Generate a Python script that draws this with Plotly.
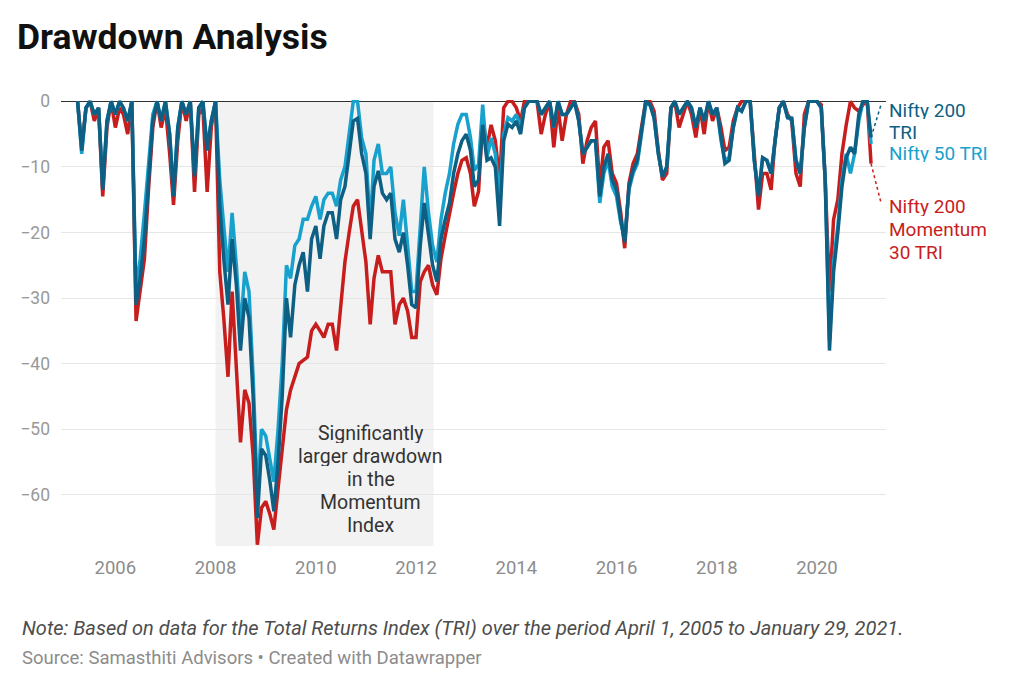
import pandas as pd
import plotly.graph_objs as go

# monthly points (first of month) from Apr 2005, plus the last day of the data
dates = list(pd.date_range('2005-04-01', '2021-01-01', freq='MS').strftime('%Y-%m-%d')) + ['2021-01-29']

# drawdown in %
nifty200 = [
    0, -7.5, -1, 0, -2, -1, -13.5, -3, 0,                           # 2005
    -2, 0, -1, -3, 0, -31, -27, -21, -11, -3, 0, -3,                # 2006
    0, -5, -14.5, -4, 0, -2, 0, -11.5, -1, 0, -7.5, -3,             # 2007
    0, -16, -24, -31, -21, -28, -38, -30, -33, -45, -63.5, -53,     # 2008
    -54, -58, -62.5, -55, -45, -30, -36, -28, -25, -23, -29, -21,   # 2009
    -19, -24, -19, -17, -17, -21, -15, -13, -8, -3, -2.6, -8,       # 2010
    -11, -21, -13, -10.6, -14, -15, -14, -21, -23, -20, -25, -31,   # 2011
    -31.5, -22, -15.5, -20, -25, -27.5, -21, -18, -15.5, -11, -8, -6,  # 2012
    -5, -7.5, -13, -12, -3.6, -9, -8.6, -10, -19, -6, -3.5, -4,     # 2013
    -3, -5, -1, 0, 0, 0, -2, -1, 0, -4, 0, -2,                      # 2014
    -2, -1, 0, -3, -8, -7, -6, -6, -14.5, -10, -8, -12,             # 2015
    -13.5, -18, -21.5, -13, -10.5, -9, -4.5, 0, -0.5, -2.5, -8, -11.5,  # 2016
    -10, -1, 0, -2, -1, 0, -1, -4, -1, -3, 0, -2,                   # 2017
    -1, -6, -9.5, -9, -4, -1, -1.5, 0, 0, -9, -14.5, -8.6,          # 2018
    -9, -11, -6, -1, 0, -2.5, -2.6, -9, -11, -4, 0, 0,              # 2019
    0, -1, -12, -38, -26, -20, -13, -8.6, -7, -8, -2, 0,            # 2020
    0, -5.5,                                                        # 2021
]

nifty50 = [
    0, -8, -1, 0, -2, -1, -13, -3, 0,
    -2, 0, -1, -3, 0, -29, -24, -17, -9, -2, 0, -3,
    0, -5, -14, -4, 0, -2, 0, -11, -1, 0, -7, -3,
    0, -12, -19, -26, -17, -25, -35, -26, -29, -42, -60, -50,
    -51, -55, -58, -50, -40, -25, -27, -22, -21, -18, -18, -16,
    -14.5, -18, -15, -14, -14, -16, -12, -10, -4.5, 0, 0, -5.6,
    -8, -19, -9, -6.5, -11, -11, -10, -17, -20.5, -15, -22, -29,
    -29, -19.5, -10, -17, -22, -24.5, -18, -14, -11, -6.5, -3.5, -2,
    -2, -5.5, -10.5, -9.6, -0.5, -8.6, -5.6, -8, -15, -5, -2.5, -3,
    -2, -4, -1, 0, 0, 0, -2, -1, 0, -4, 0, -2,
    -2, -1, 0, -3, -8, -7, -6, -6, -15.5, -11, -9, -13,
    -14.5, -18.5, -21, -13.5, -11, -9.5, -5, -0.5, -0.5, -2.5, -8, -11.5,
    -10, -1, 0, -2, -1, 0, -1, -4, -1, -3, 0, -2,
    -1, -6, -9, -8.5, -4, -1, -1.5, 0, 0, -9, -14, -8.6,
    -9, -11, -6, -1, 0, -2.5, -2.6, -9, -11, -4, 0, 0,
    0, -1, -12, -36.5, -24.5, -19, -12, -8, -11, -8, -3, 0,
    0, -6.5,
]

momentum30 = [
    0, -7, -1, 0, -3, -1, -14.5, -4, 0,
    -4, -1, -2, -5, 0, -33.5, -29, -24, -13, -4, 0, -4,
    -1, -8, -15.8, -6, 0, -3, 0, -13.8, -2, -1, -13.8, -4,
    0, -26, -33, -42, -29, -40, -52, -44, -46, -54, -67.6, -62,
    -61, -63, -65.3, -59, -53, -47, -44, -42, -40, -39.5, -39, -35,
    -34, -35, -36, -34, -34, -38, -31, -24.5, -20, -16, -15, -19.5,
    -24.5, -34, -27, -23.5, -26, -26, -26, -34, -31, -30, -32, -36,
    -36, -27.5, -26, -25, -28, -29.5, -24, -20.5, -17, -14, -11, -9,
    -8.6, -11, -16, -13.7, -2.6, -7, -3.6, -6, -12, -1, 0, 0,
    -1, -3, 0, 0, 0, 0, -5, -2, 0, -7, -1, -6,
    -2, 0, 0, -2, -9.5, -6, -4, -3, -13, -7, -6, -11,
    -12.5, -17, -22.4, -12.5, -9.5, -8, -4, 0, 0, -1.5, -7.5, -12,
    -11, -1, 0, -4, -2, 0, -2, -5.5, -1, -5, 0, -3,
    -1, -4, -7.5, -7, -3, -1, 0, 0, 0, -8, -16.5, -11,
    -11, -13.5, -6, -1, 0, -2, -3, -11, -13, -2, 0, 0,
    0, -0.5, -12, -29, -18, -15, -8, -3.6, 0, -1, -1.5, -0.5,
    0, -9.5,
]

year_ticks = ['2006', '2008', '2010', '2012', '2014', '2016', '2018', '2020']
y_ticks = [0, -10, -20, -30, -40, -50, -60]

DARK = '#0e5f84'
LIGHT = '#18a1cd'
RED = '#c71e1d'
FONT = 'Roboto'

# the page has an 8px body margin, so the figure is 8px smaller than the window
W, H = 1016, 686

fig = go.Figure()

# red first so the two blues sit on top of it
fig.add_trace(go.Scatter(x=dates, y=momentum30, mode='lines', name='Nifty 200 Momentum 30 TRI',
                         line=dict(color=RED, width=3.5)))
fig.add_trace(go.Scatter(x=dates, y=nifty50, mode='lines', name='Nifty 50 TRI',
                         line=dict(color=LIGHT, width=3.5)))
fig.add_trace(go.Scatter(x=dates, y=nifty200, mode='lines', name='Nifty 200 TRI',
                         line=dict(color=DARK, width=3.5)))

# grey band behind the 2008-2012 period
fig.add_shape(type='rect', xref='x', yref='y', x0='2008-01-01', x1='2012-05-08', y0=-67.8, y1=0,
              fillcolor='#f2f2f2', line=dict(width=0), layer='below')

# dotted connectors from line ends to the labels
fig.add_shape(type='line', xref='x', yref='y', x0=dates[-1], y0=nifty200[-1], x1='2021-04-15', y1=-0.3,
              line=dict(color=DARK, width=1.5, dash='dot'))
fig.add_shape(type='line', xref='x', yref='y', x0=dates[-1], y0=momentum30[-1], x1='2021-04-12', y1=-15.5,
              line=dict(color=RED, width=1.5, dash='dot'))


def text_block(lines, x, y, color, xref='x', xanchor='center', xshift=0, size=19.5, step=23):
    # one annotation per line so the line spacing can be set in px
    mid = (len(lines) - 1) / 2
    for i, line in enumerate(lines):
        fig.add_annotation(x=x, y=y, xref=xref, yref='y', xanchor=xanchor, yanchor='middle',
                           xshift=xshift, yshift=(mid - i) * step, text=line, showarrow=False,
                           height=step - 4, borderpad=0,
                           font=dict(family=FONT, size=size, color=color))


text_block(['Significantly', 'larger drawdown', 'in the', 'Momentum', 'Index'],
           '2011-02-06', -57.6, '#333333')

text_block(['Nifty 200', 'TRI'], 1, -3.05, DARK, xref='paper', xanchor='left', xshift=2, size=19, step=22)
text_block(['Nifty 50 TRI'], 1, -7.9, LIGHT, xref='paper', xanchor='left', xshift=2, size=19, step=22)
text_block(['Nifty 200', 'Momentum', '30 TRI'], 1, -19.6, RED, xref='paper', xanchor='left', xshift=2,
           size=19)

# footer
fig.add_annotation(x=0, xshift=-41, y=0, yshift=-82, xref='paper', yref='paper',
                   xanchor='left', yanchor='middle', showarrow=False,
                   text='<i>Note: Based on data for the Total Returns Index (TRI) over the period April 1, 2005 to January 29, 2021.</i>',
                   font=dict(family=FONT, size=20, color='#4d4d4d'))
fig.add_annotation(x=0, xshift=-41, y=0, yshift=-112, xref='paper', yref='paper',
                   xanchor='left', yanchor='middle', showarrow=False,
                   text='Source: Samasthiti Advisors • Created with Datawrapper',
                   font=dict(family=FONT, size=18.5, color='#8c8c8c'))

fig.update_layout(
    width=W, height=H,
    margin=dict(l=50, r=138, t=92, b=148),
    paper_bgcolor='white', plot_bgcolor='white',
    showlegend=False,
    font=dict(family=FONT, color='#8c8c8c'),
    title=dict(text='<b>Drawdown Analysis</b>', x=9 / W, xref='container', xanchor='left',
               y=1 - 29 / H, yref='container', yanchor='middle',
               font=dict(family=FONT, size=35.5, color='#111111')),
    xaxis=dict(type='date', range=['2004-12-01', '2021-05-18'], showgrid=False, zeroline=False,
               tickvals=[y + '-01-01' for y in year_ticks], ticktext=year_ticks,
               ticks='', ticklabelstandoff=8, tickfont=dict(size=18.5, color='#8c8c8c')),
    yaxis=dict(range=[-67.8, 0.2], tickvals=y_ticks, showgrid=True, gridcolor='#e6e6e6', gridwidth=1,
               zeroline=True, zerolinecolor='#333333', zerolinewidth=1,
               ticks='', ticklabelstandoff=10, tickfont=dict(size=17.5, color='#999999')),
)

fig.write_html('out.html')
